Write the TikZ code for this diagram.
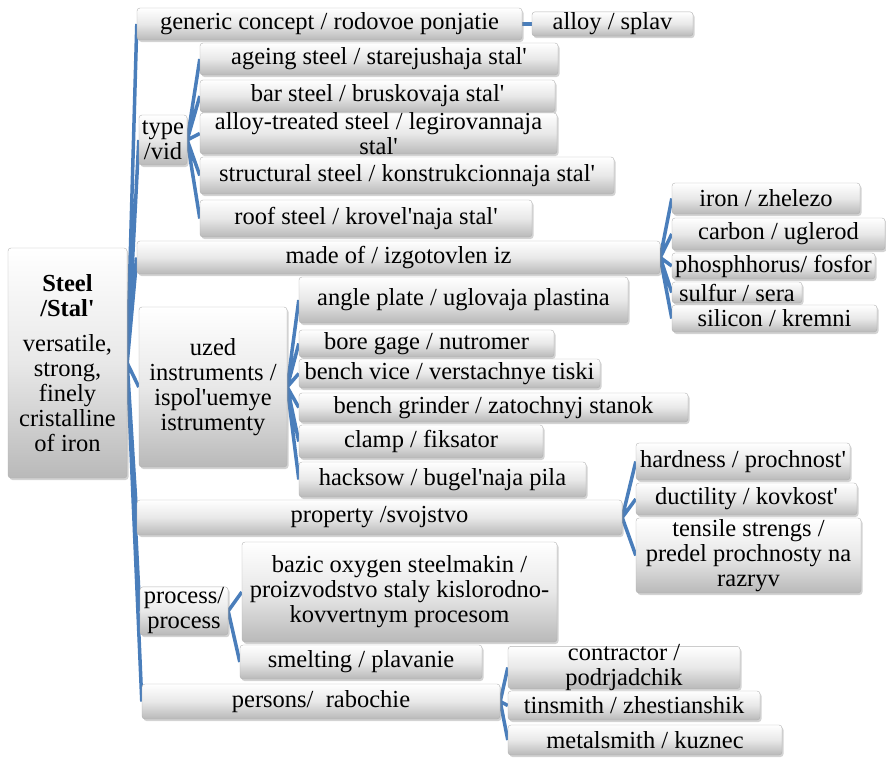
\documentclass[tikz,border=0pt]{standalone}
\usepackage{fontspec}
\setmainfont{Liberation Serif}
\usepackage{xcolor}
\usetikzlibrary{shadows, backgrounds}
\definecolor{lienbleu}{RGB}{74,126,187}
\newcommand{\apo}{\textquotesingle}
\tikzset{
  boite/.style={draw=gray!60, rounded corners=3pt, top color=white,
                bottom color=gray!55, middle color=gray!18, inner sep=1pt,
                align=center, font=\fontsize{24.5}{25}\selectfont,
                drop shadow={opacity=0.35, shadow xshift=1.5pt, shadow yshift=-2pt}},
  lien/.style={lienbleu, line width=3.5pt}
}

\begin{document}
\begin{tikzpicture}[x=1pt, y=-1pt]
  \useasboundingbox (0,0) rectangle (886,758);
  % Racine
  \node[boite, minimum width=119, minimum height=230] (steel) at (67.5,363)
      {\textbf{Steel}\\\textbf{/Stal\apo}\\[10pt]versatile,\\strong,\\finely\\cristalline\\of iron};
  % Concept generique
  \node[boite, minimum width=385, minimum height=32] (generic) at (329.5,24)
      {generic concept / rodovoe ponjatie};
  \node[boite, minimum width=161, minimum height=22] (alloy) at (612.5,24)
      {alloy / splav};
  % Types
  \node[boite, minimum width=48, minimum height=50] (type) at (163,140)
      {type\\/vid};
  \node[boite, minimum width=358, minimum height=32] (ageing) at (379,59)
      {ageing steel / starejushaja stal\apo};
  \node[boite, minimum width=355, minimum height=32] (bar) at (377.5,96)
      {bar steel / bruskovaja stal\apo};
  \node[boite, minimum width=357, minimum height=41, inner ysep=-3pt] (treated) at (378.5,133.5)
      {alloy-treated steel / legirovannaja\\stal\apo};
  \node[boite, minimum width=414, minimum height=37] (structural) at (407,175.5)
      {structural steel / konstrukcionnaja stal\apo};
  \node[boite, minimum width=332, minimum height=37] (roof) at (366,218.5)
      {roof steel / krovel\apo naja stal\apo};
  % Composition
  \node[boite, minimum width=523, minimum height=33] (made) at (398.5,257.5)
      {made of / izgotovlen iz};
  \node[boite, minimum width=188, minimum height=31] (iron) at (766,198.5)
      {iron / zhelezo};
  \node[boite, minimum width=213, minimum height=32] (carbon) at (778.5,234)
      {carbon / uglerod};
  \node[boite, minimum width=203, minimum height=26] (phosph) at (773.5,266)
      {phosphhorus/ fosfor};
  \node[boite, minimum width=130, minimum height=21] (sulfur) at (737,292.5)
      {sulfur / sera};
  \node[boite, minimum width=205, minimum height=27] (silicon) at (774.5,318.5)
      {silicon / kremni};
  % Instruments
  \node[boite, minimum width=148, minimum height=160] (uzed) at (213,387)
      {uzed\\instruments /\\ispol\apo uemye\\istrumenty};
  \node[boite, minimum width=329, minimum height=46] (angle) at (463.5,300)
      {angle plate / uglovaja plastina};
  \node[boite, minimum width=255, minimum height=27] (bore) at (426.5,343.5)
      {bore gage / nutromer};
  \node[boite, minimum width=301, minimum height=29] (vice) at (449.5,373.5)
      {bench vice / verstachnye tiski};
  \node[boite, minimum width=389, minimum height=29] (grinder) at (493.5,407.5)
      {bench grinder / zatochnyj stanok};
  \node[boite, minimum width=244, minimum height=33] (clamp) at (421,441.5)
      {clamp / fiksator};
  \node[boite, minimum width=287, minimum height=35] (hacksow) at (442.5,479.5)
      {hacksow / bugel\apo naja pila};
  % Proprietes
  \node[boite, minimum width=485, minimum height=35] (property) at (379.5,517.5)
      {property /svojstvo};
  \node[boite, minimum width=214, minimum height=37] (hardness) at (743,461.5)
      {hardness / prochnost\apo};
  \node[boite, minimum width=221, minimum height=32] (ductility) at (746.5,499)
      {ductility / kovkost\apo};
  \node[boite, minimum width=225, minimum height=75, inner xsep=0pt] (tensile) at (748.5,555.5)
      {tensile strengs /\\predel prochnosty na\\razryv};
  % Procedes
  \node[boite, minimum width=88, minimum height=48] (process) at (184,611)
      {process/\\process};
  \node[boite, minimum width=315, minimum height=100] (bazic) at (399.5,592)
      {bazic oxygen steelmakin /\\proizvodstvo staly kislorodno-\\kovvertnym procesom};
  \node[boite, minimum width=242, minimum height=34] (smelting) at (361,662)
      {smelting / plavanie};
  % Personnes
  \node[boite, minimum width=358, minimum height=35] (persons) at (321,701.5)
      {persons/ \ rabochie};
  \node[boite, minimum width=232, minimum height=41, inner ysep=-2pt] (contractor) at (624,667.5)
      {contractor /\\podrjadchik};
  \node[boite, minimum width=252, minimum height=29] (tinsmith) at (634,705.5)
      {tinsmith / zhestianshik};
  \node[boite, minimum width=274, minimum height=30] (metalsmith) at (645,740)
      {metalsmith / kuznec};
  % Liens
  \begin{scope}[on background layer]
    \draw[lien] (steel.east) -- (generic.west) (steel.east) -- (type.west)
      (steel.east) -- (made.west) (steel.east) -- (uzed.west)
      (steel.east) -- (property.west) (steel.east) -- (process.west)
      (steel.east) -- (persons.west);
    \draw[lien] (generic.east) -- (alloy.west);
    \draw[lien] (type.east) -- (ageing.west) (type.east) -- (bar.west)
      (type.east) -- (treated.west) (type.east) -- (structural.west)
      (type.east) -- (roof.west);
    \draw[lien] (made.east) -- (iron.west) (made.east) -- (carbon.west)
      (made.east) -- (phosph.west) (made.east) -- (sulfur.west)
      (made.east) -- (silicon.west);
    \draw[lien] (uzed.east) -- (angle.west) (uzed.east) -- (bore.west)
      (uzed.east) -- (vice.west) (uzed.east) -- (grinder.west)
      (uzed.east) -- (clamp.west) (uzed.east) -- (hacksow.west);
    \draw[lien] (property.east) -- (hardness.west) (property.east) -- (ductility.west)
      (property.east) -- (tensile.west);
    \draw[lien] (process.east) -- (bazic.west) (process.east) -- (smelting.west);
    \draw[lien] (persons.east) -- (contractor.west) (persons.east) -- (tinsmith.west)
      (persons.east) -- (metalsmith.west);
  \end{scope}
\end{tikzpicture}
\end{document}
